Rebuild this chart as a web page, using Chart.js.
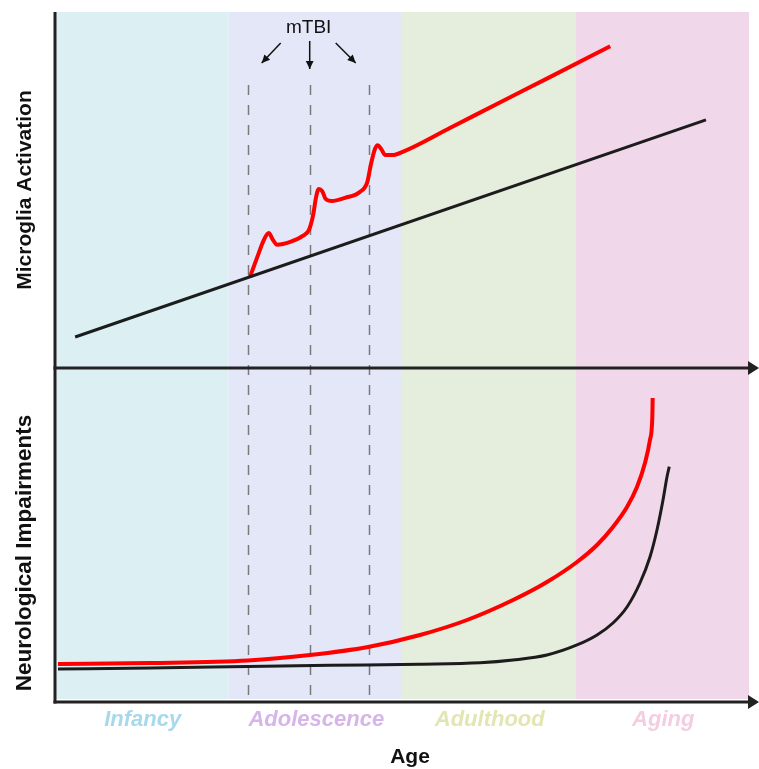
<!DOCTYPE html>
<html>
<head>
<meta charset="utf-8">
<script src="https://cdn.jsdelivr.net/npm/chart.js@4.4.0/dist/chart.umd.min.js"></script>
<style>
  html, body { margin: 0; padding: 0; background: #fff; }
</style>
</head>
<body>
<canvas id="chart" width="759" height="769"></canvas>
<script>
// Life periods along the age axis (age in 0-100 units)
const periods = ["Infancy", "Adolescence", "Adulthood", "Aging"];
const periodStart = [0, 25, 50, 75];
const periodEnd = [25, 50, 75, 100];

// mTBI events
const mtbiAges = [27.8, 36.7, 45.2];

// Microglia activation (top panel, 0-100)
const microAgeNormal = [2.9, 93.8];
const microNormal = [8.7, 69.7];
const microAgeTBI = [28.1, 29.25, 30.1, 30.8, 31.4, 32.0, 33.9, 35.7, 36.6, 37.2, 37.6, 38.0, 38.5, 39.0, 39.9, 41.8, 43.9, 45.0, 45.5, 46.1, 46.5, 47.0, 47.6, 48.6, 50.1, 56.9, 64.1, 71.3, 80.0];
const microTBI = [25.6, 31.7, 36.0, 37.9, 36.0, 34.6, 35.4, 37.1, 38.8, 43.0, 47.8, 50.3, 49.7, 47.5, 46.9, 47.8, 49.4, 52.2, 57.0, 61.5, 62.6, 61.5, 59.8, 59.8, 60.7, 67.4, 74.6, 81.7, 90.4];

// Neurological impairments (bottom panel, 0-100)
const neuroAgeTBI = [0.43, 13.69, 27.81, 36.74, 45.1, 52.59, 59.37, 66.0, 70.89, 75.22, 78.1, 80.4, 82.42, 83.86, 85.01, 85.73, 86.07, 86.12];
const neuroTBI = [11.38, 11.68, 12.43, 14.07, 16.47, 20.06, 24.55, 30.54, 35.93, 41.92, 47.01, 52.4, 58.38, 64.37, 71.56, 78.44, 85.33, 91.02];
const neuroAgeNormal = [0.43, 13.69, 27.81, 39.63, 52.59, 61.24, 66.0, 70.89, 75.22, 78.1, 80.4, 82.42, 84.29, 85.73, 86.74, 87.61, 88.18, 88.51];
const neuroNormal = [9.88, 10.18, 10.63, 10.99, 11.32, 11.74, 12.57, 14.07, 17.07, 20.06, 23.65, 28.44, 35.63, 43.41, 51.5, 60.48, 67.37, 70.45];

// Colours
const bandColors = ["#dcf0f4", "#e4e7f8", "#e5eddd", "#f0d7e9"];
const labelColors = ["#a6d9ec", "#d6b6e8", "#e2e6b2", "#f5cde3"];
const RED = "#ff0000";
const BLACK = "#1c1c1c";
const AXIS = "#222222";

const toPoints = (xs, ys) => xs.map((x, i) => ({ x: x, y: ys[i] }));

function arrowHead(ctx, x0, y0, x1, y1, size) {
  const ang = Math.atan2(y1 - y0, x1 - x0);
  ctx.beginPath();
  ctx.moveTo(x1, y1);
  ctx.lineTo(x1 - size * Math.cos(ang - 0.45), y1 - size * Math.sin(ang - 0.45));
  ctx.lineTo(x1 - size * Math.cos(ang + 0.45), y1 - size * Math.sin(ang + 0.45));
  ctx.closePath();
  ctx.fill();
}

// background bands + dashed mTBI lines
const bandsPlugin = {
  id: "bands",
  beforeDatasetsDraw(chart) {
    const { ctx, chartArea, scales } = chart;
    const x = scales.x;
    ctx.save();
    periods.forEach((p, i) => {
      const x0 = x.getPixelForValue(periodStart[i]);
      const x1 = x.getPixelForValue(periodEnd[i]);
      ctx.fillStyle = bandColors[i];
      ctx.fillRect(x0, chartArea.top, x1 - x0, chartArea.bottom - 3 - chartArea.top);
    });
    ctx.strokeStyle = "#7a7a7a";
    ctx.lineWidth = 1.5;
    ctx.setLineDash([10, 10]);
    mtbiAges.forEach((a) => {
      const px = Math.round(x.getPixelForValue(a)) + 0.5;
      ctx.beginPath();
      ctx.moveTo(px, chartArea.top + 73);
      ctx.lineTo(px, chartArea.bottom - 2);
      ctx.stroke();
    });
    ctx.restore();
  },
};

// axes, arrows and all the text
const overlayPlugin = {
  id: "overlay",
  afterDatasetsDraw(chart) {
    const { ctx, chartArea, scales } = chart;
    const x = scales.x;
    const midY = scales.yTop.bottom;
    const botY = chartArea.bottom;
    ctx.save();

    // axes
    ctx.strokeStyle = AXIS;
    ctx.fillStyle = AXIS;
    ctx.lineWidth = 3;
    ctx.beginPath();
    ctx.moveTo(chartArea.left, chartArea.top);
    ctx.lineTo(chartArea.left, botY + 1.5);
    ctx.stroke();
    [midY, botY].forEach((yy) => {
      ctx.beginPath();
      ctx.moveTo(chartArea.left - 1.5, yy);
      ctx.lineTo(chart.width - 8, yy);
      ctx.stroke();
      ctx.beginPath();
      ctx.moveTo(chart.width, yy);
      ctx.lineTo(chart.width - 11, yy - 7);
      ctx.lineTo(chart.width - 11, yy + 7);
      ctx.closePath();
      ctx.fill();
    });

    // mTBI label and arrows
    const mid = x.getPixelForValue(mtbiAges[1]);
    ctx.fillStyle = "#111";
    ctx.font = "19px 'Liberation Sans', Arial, sans-serif";
    ctx.textAlign = "center";
    ctx.textBaseline = "middle";
    ctx.fillText("mTBI", mid - 1, 28);
    ctx.strokeStyle = "#111";
    ctx.lineWidth = 1.5;
    const arrows = [
      [mid - 29, 43, mid - 48, 63],
      [mid, 41, mid, 69],
      [mid + 26, 43, mid + 46, 63],
    ];
    arrows.forEach((a) => {
      ctx.beginPath();
      ctx.moveTo(a[0], a[1]);
      ctx.lineTo(a[2], a[3]);
      ctx.stroke();
      arrowHead(ctx, a[0], a[1], a[2], a[3], 9);
    });

    // period labels
    ctx.font = "italic bold 22px 'Liberation Sans', Arial, sans-serif";
    periods.forEach((p, i) => {
      const cx = x.getPixelForValue((periodStart[i] + periodEnd[i]) / 2);
      ctx.fillStyle = labelColors[i];
      ctx.fillText(p, cx + 1, 720);
    });

    // axis titles
    ctx.fillStyle = "#111";
    ctx.font = "bold 21px 'Liberation Sans', Arial, sans-serif";
    ctx.fillText("Age", 410, 757);
    [["Microglia Activation", 190, 21], ["Neurological Impairments", 553, 22.5]].forEach((t) => {
      ctx.save();
      ctx.font = "bold " + t[2] + "px 'Liberation Sans', Arial, sans-serif";
      ctx.translate(25, t[1]);
      ctx.rotate(-Math.PI / 2);
      ctx.fillText(t[0], 0, 0);
      ctx.restore();
    });
    ctx.restore();
  },
};

new Chart(document.getElementById("chart"), {
  type: "line",
  data: {
    datasets: [
      {
        data: toPoints(microAgeNormal, microNormal),
        yAxisID: "yTop",
        borderColor: BLACK,
        borderWidth: 3,
        tension: 0,
      },
      {
        data: toPoints(microAgeTBI, microTBI),
        yAxisID: "yTop",
        borderColor: RED,
        borderWidth: 4,
        cubicInterpolationMode: "monotone",
      },
      {
        data: toPoints(neuroAgeNormal, neuroNormal),
        yAxisID: "yBot",
        borderColor: BLACK,
        borderWidth: 3,
        cubicInterpolationMode: "monotone",
      },
      {
        data: toPoints(neuroAgeTBI, neuroTBI),
        yAxisID: "yBot",
        borderColor: RED,
        borderWidth: 4,
        cubicInterpolationMode: "monotone",
      },
    ],
  },
  options: {
    responsive: false,
    animation: false,
    devicePixelRatio: 1,
    layout: { padding: { left: 55, right: 10, top: 12, bottom: 67 } },
    elements: { point: { radius: 0 } },
    plugins: { legend: { display: false }, tooltip: { enabled: false } },
    scales: {
      x: { type: "linear", min: 0, max: 100, display: false },
      // left stacked scales are laid out last-first, so the bottom panel is listed first
      yBot: { type: "linear", position: "left", min: 0, max: 100, stack: "v", stackWeight: 334, display: false },
      yTop: { type: "linear", position: "left", min: 0, max: 100, stack: "v", stackWeight: 356, display: false },
    },
  },
  plugins: [bandsPlugin, overlayPlugin],
});
</script>
</body>
</html>
